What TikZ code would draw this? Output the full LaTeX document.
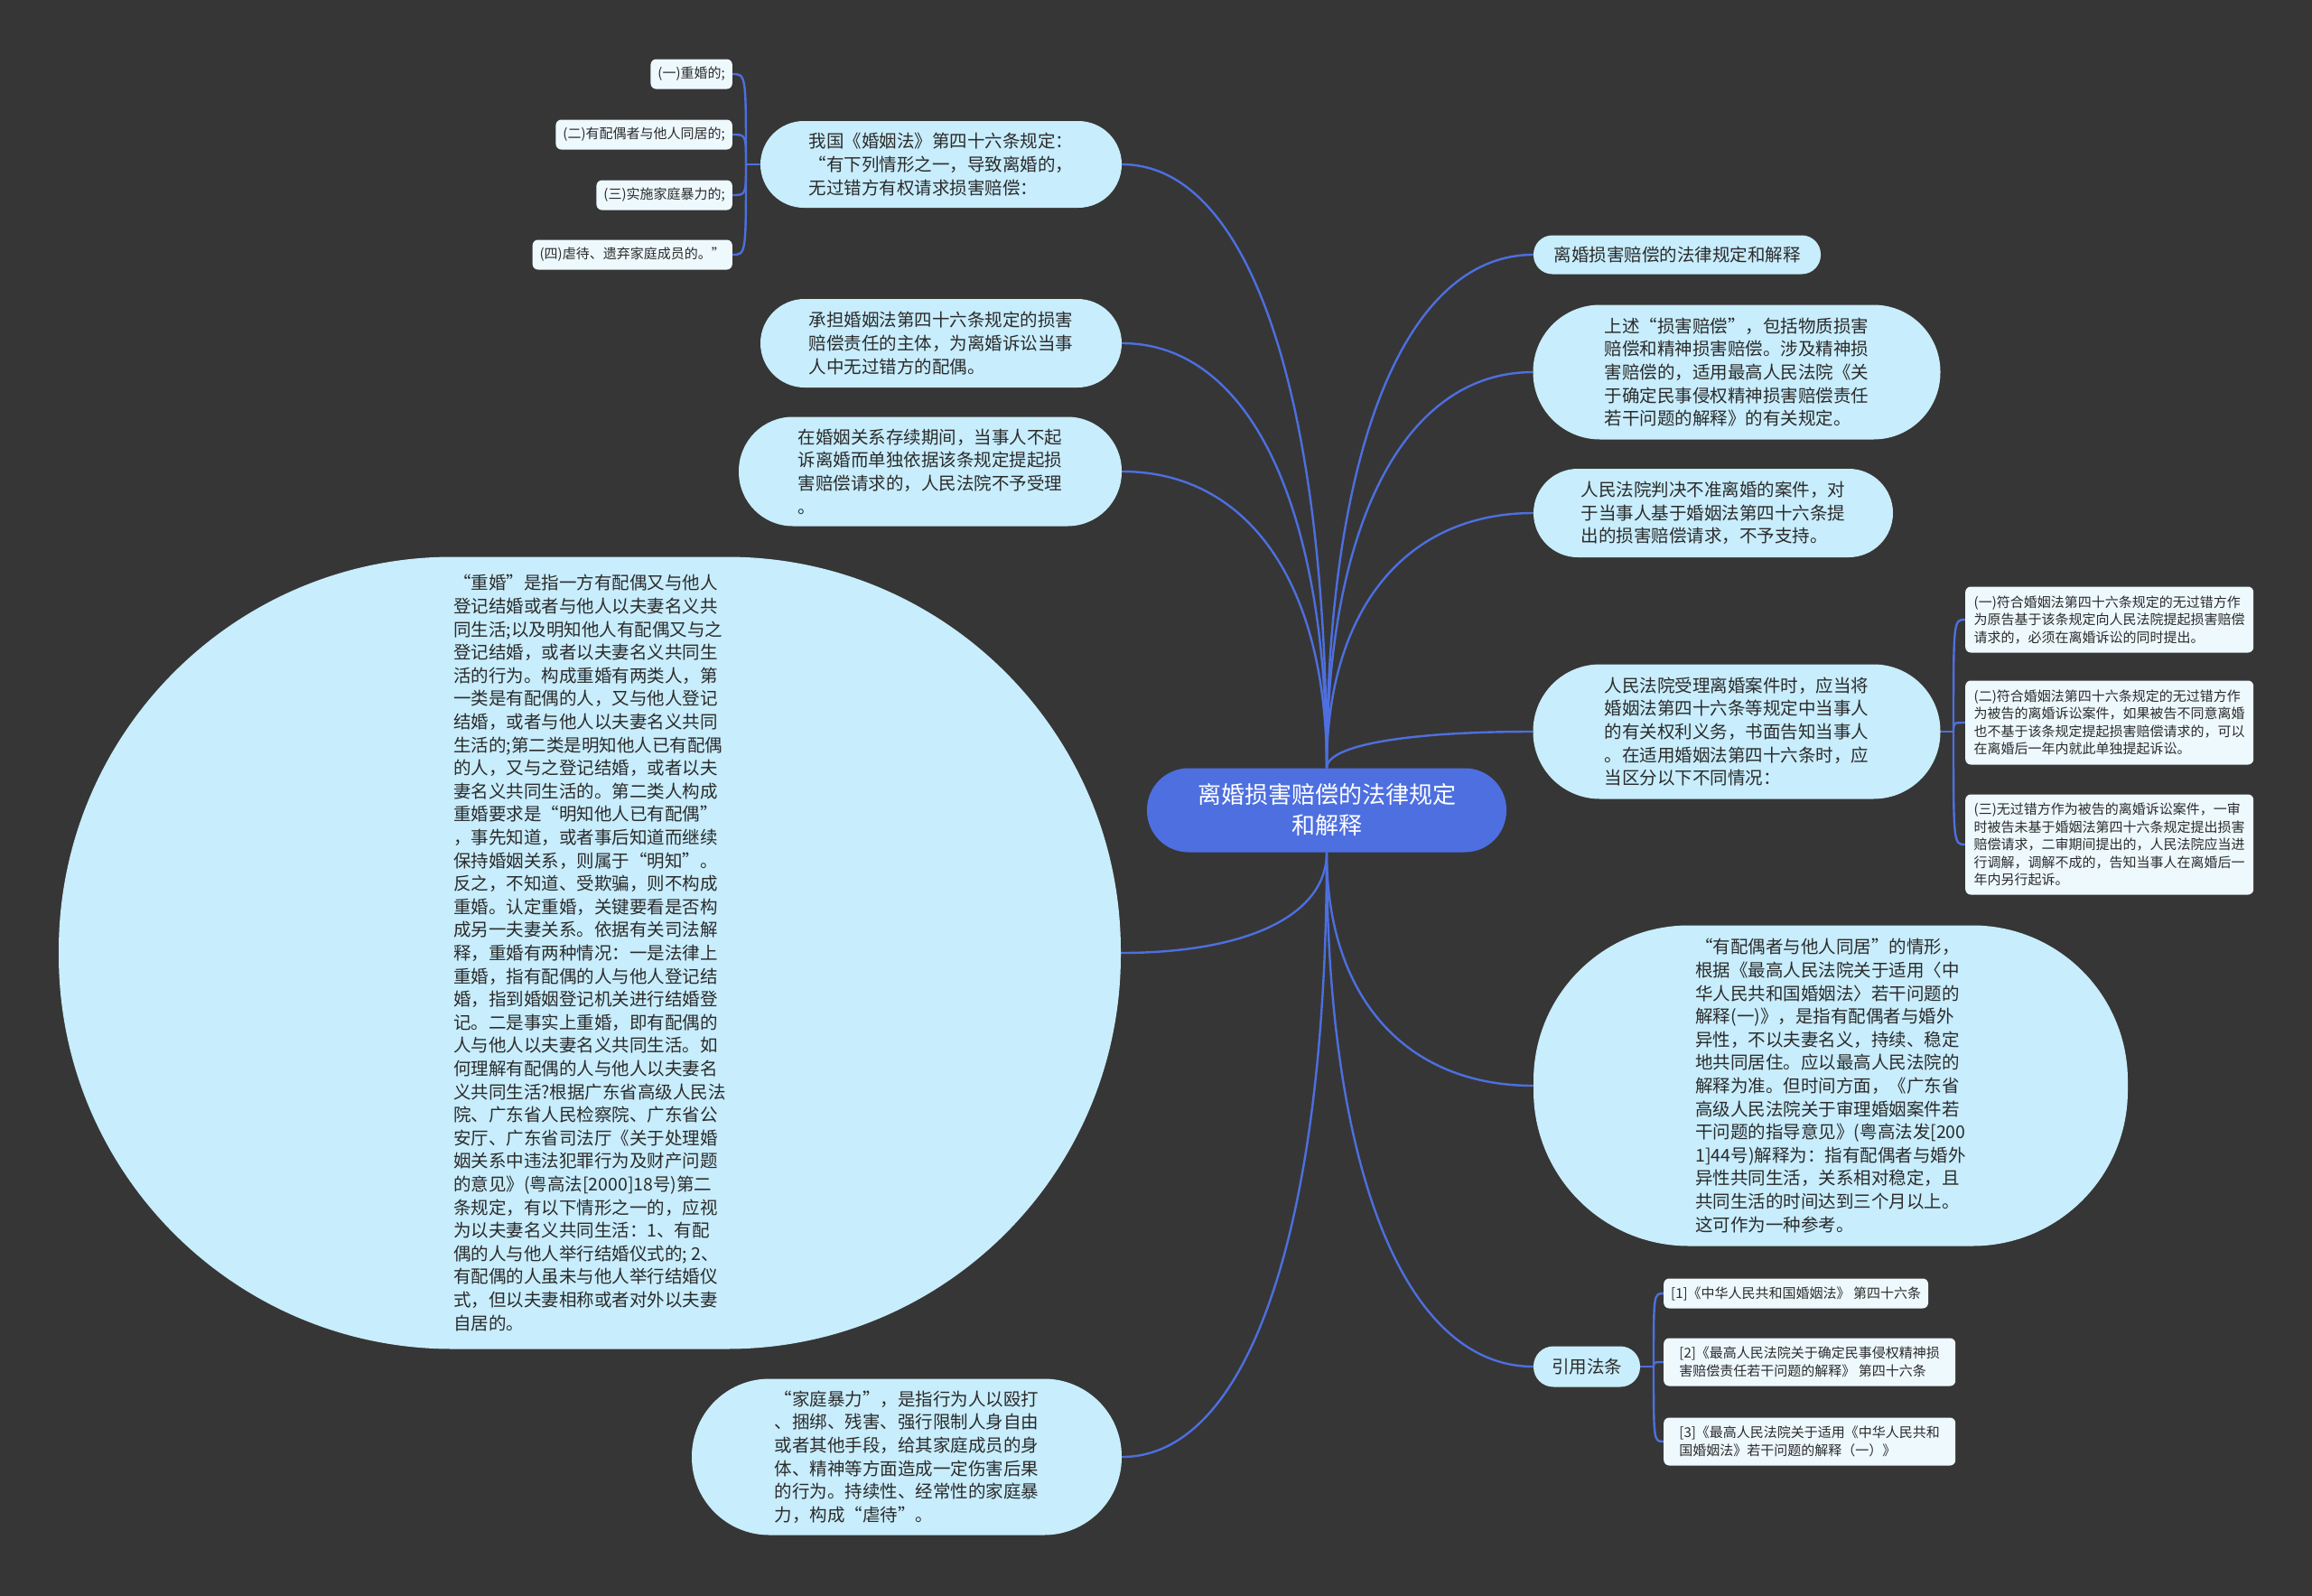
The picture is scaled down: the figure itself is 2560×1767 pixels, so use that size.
\documentclass[tikz,border=0pt]{standalone}
\usepackage{fontspec}
\newfontfamily\cjk{Noto Sans CJK SC}
\usetikzlibrary{calc,backgrounds}
\definecolor{bgc}{HTML}{363636}
\definecolor{nodefill}{HTML}{C8EDFC}
\definecolor{subfill}{HTML}{EEF9FE}
\definecolor{txtc}{HTML}{2B2B2B}
\definecolor{mainfill}{HTML}{4D6FE0}
\definecolor{linkc}{HTML}{4D6FDF}
\newcommand\mmconn[2]{\draw[link] (#1) .. controls ($(#1)!0.62!(#1 |- #2)$) and ($(#2)!0.62!(#1 |- #2)$) .. (#2);}
\newcommand\mmbrk[2]{\draw[link] (#1) .. controls (#1 |- #2) .. (#2);}
\begin{document}
\begin{tikzpicture}[x=1pt,y=-1pt,
  link/.style={draw=linkc, line width=2.4pt},
  topic/.style={fill=nodefill, text=txtc, inner sep=0pt, align=left, font=\cjk\fontsize{19.5}{25.6}\selectfont},
  subbox/.style={fill=subfill, text=txtc, rounded corners=6pt, inner xsep=8pt, inner ysep=0pt, align=left, font=\cjk\fontsize{15}{19.5}\selectfont},
  mainbox/.style={fill=mainfill, text=white, inner sep=0pt, align=center, font=\cjk\fontsize{26}{34}\selectfont}]
\useasboundingbox (0,0) rectangle (2560,1767);

% central
\node[mainbox, rounded corners=46pt, minimum width=398pt, minimum height=93pt] (c) at (1469,897) {离婚损害赔偿的法律规定\\和解释};

% left topics
\node[topic, rounded corners=48pt, minimum width=400pt, minimum height=96pt] (l1) at (1042,182) {我国《婚姻法》第四十六条规定：\\“有下列情形之一，导致离婚的，\\无过错方有权请求损害赔偿：};
\node[topic, rounded corners=49pt, minimum width=400pt, minimum height=98pt] (l2) at (1042,380) {承担婚姻法第四十六条规定的损害\\赔偿责任的主体，为离婚诉讼当事\\人中无过错方的配偶。};
\node[topic, rounded corners=60pt, minimum width=424pt, minimum height=121pt] (l3) at (1030,522) {在婚姻关系存续期间，当事人不起\\诉离婚而单独依据该条规定提起损\\害赔偿请求的，人民法院不予受理\\。};
\node[topic, rounded corners=436pt, minimum width=1176pt, minimum height=877pt] (l4) at (653,1055) {“重婚”是指一方有配偶又与他人\\登记结婚或者与他人以夫妻名义共\\同生活;以及明知他人有配偶又与之\\登记结婚，或者以夫妻名义共同生\\活的行为。构成重婚有两类人，第\\一类是有配偶的人，又与他人登记\\结婚，或者与他人以夫妻名义共同\\生活的;第二类是明知他人已有配偶\\的人，又与之登记结婚，或者以夫\\妻名义共同生活的。第二类人构成\\重婚要求是“明知他人已有配偶”\\，事先知道，或者事后知道而继续\\保持婚姻关系，则属于“明知”。\\反之，不知道、受欺骗，则不构成\\重婚。认定重婚，关键要看是否构\\成另一夫妻关系。依据有关司法解\\释，重婚有两种情况：一是法律上\\重婚，指有配偶的人与他人登记结\\婚，指到婚姻登记机关进行结婚登\\记。二是事实上重婚，即有配偶的\\人与他人以夫妻名义共同生活。如\\何理解有配偶的人与他人以夫妻名\\义共同生活?根据广东省高级人民法\\院、广东省人民检察院、广东省公\\安厅、广东省司法厅《关于处理婚\\姻关系中违法犯罪行为及财产问题\\的意见》(粤高法[2000]18号)第二\\条规定，有以下情形之一的，应视\\为以夫妻名义共同生活：1、有配\\偶的人与他人举行结婚仪式的; 2、\\有配偶的人虽未与他人举行结婚仪\\式，但以夫妻相称或者对外以夫妻\\自居的。};
\node[topic, rounded corners=86pt, minimum width=476pt, minimum height=173pt] (l5) at (1004,1613) {“家庭暴力”，是指行为人以殴打\\、捆绑、残害、强行限制人身自由\\或者其他手段，给其家庭成员的身\\体、精神等方面造成一定伤害后果\\的行为。持续性、经常性的家庭暴\\力，构成“虐待”。};

% left small boxes
\node[subbox, anchor=east, minimum height=33pt] (k1) at (811,82) {(一)重婚的;};
\node[subbox, anchor=east, minimum height=33pt] (k2) at (811,149) {(二)有配偶者与他人同居的;};
\node[subbox, anchor=east, minimum height=33pt] (k3) at (811,216) {(三)实施家庭暴力的;};
\node[subbox, anchor=east, minimum height=33pt] (k4) at (811,282) {(四)虐待、遗弃家庭成员的。”};

% right topics
\node[topic, rounded corners=21pt, minimum width=318pt, minimum height=43pt] (r1) at (1857,282) {离婚损害赔偿的法律规定和解释};
\node[topic, rounded corners=74pt, minimum width=451pt, minimum height=149pt] (r2) at (1923,412) {上述“损害赔偿”，包括物质损害\\赔偿和精神损害赔偿。涉及精神损\\害赔偿的，适用最高人民法院《关\\于确定民事侵权精神损害赔偿责任\\若干问题的解释》的有关规定。};
\node[topic, rounded corners=49pt, minimum width=398pt, minimum height=98pt] (r3) at (1897,568) {人民法院判决不准离婚的案件，对\\于当事人基于婚姻法第四十六条提\\出的损害赔偿请求，不予支持。};
\node[topic, rounded corners=74pt, minimum width=451pt, minimum height=149pt] (r4) at (1923,810) {人民法院受理离婚案件时，应当将\\婚姻法第四十六条等规定中当事人\\的有关权利义务，书面告知当事人\\。在适用婚姻法第四十六条时，应\\当区分以下不同情况：};
\node[topic, rounded corners=172pt, minimum width=658pt, minimum height=355pt] (r5) at (2027,1202) {“有配偶者与他人同居”的情形，\\根据《最高人民法院关于适用〈中\\华人民共和国婚姻法〉若干问题的\\解释(一)》，是指有配偶者与婚外\\异性，不以夫妻名义，持续、稳定\\地共同居住。应以最高人民法院的\\解释为准。但时间方面，《广东省\\高级人民法院关于审理婚姻案件若\\干问题的指导意见》(粤高法发[200\\1]44号)解释为：指有配偶者与婚外\\异性共同生活，关系相对稳定，且\\共同生活的时间达到三个月以上。\\这可作为一种参考。};
\node[topic, rounded corners=22pt, minimum width=118pt, minimum height=45pt] (r6) at (1757,1513) {引用法条};

% right small boxes (r4)
\node[subbox, anchor=west, minimum width=319pt, minimum height=73pt] (m1) at (2176,686) {(一)符合婚姻法第四十六条规定的无过错方作\\为原告基于该条规定向人民法院提起损害赔偿\\请求的，必须在离婚诉讼的同时提出。};
\node[subbox, anchor=west, minimum width=319pt, minimum height=93pt] (m2) at (2176,800) {(二)符合婚姻法第四十六条规定的无过错方作\\为被告的离婚诉讼案件，如果被告不同意离婚\\也不基于该条规定提起损害赔偿请求的，可以\\在离婚后一年内就此单独提起诉讼。};
\node[subbox, anchor=west, minimum width=319pt, minimum height=111pt] (m3) at (2176,935) {(三)无过错方作为被告的离婚诉讼案件，一审\\时被告未基于婚姻法第四十六条规定提出损害\\赔偿请求，二审期间提出的，人民法院应当进\\行调解，调解不成的，告知当事人在离婚后一\\年内另行起诉。};

% right small boxes (r6)
\node[subbox, anchor=west, minimum height=33pt] (n1) at (1842,1432) {[1]《中华人民共和国婚姻法》 第四十六条};
\node[subbox, anchor=west, minimum width=323pt, minimum height=53pt] (n2) at (1842,1508) {[2]《最高人民法院关于确定民事侵权精神损\\害赔偿责任若干问题的解释》 第四十六条};
\node[subbox, anchor=west, minimum width=323pt, minimum height=53pt] (n3) at (1842,1596) {[3]《最高人民法院关于适用《中华人民共和\\国婚姻法》若干问题的解释（一）》};

\begin{pgfonlayer}{background}
\fill[bgc] (0,0) rectangle (2560,1767);
% central connectors (top)
\mmconn{c.north}{l1.east}
\mmconn{c.north}{l2.east}
\mmconn{c.north}{l3.east}
\mmconn{c.north}{r1.west}
\mmconn{c.north}{r2.west}
\mmconn{c.north}{r3.west}
\mmconn{c.north}{r4.west}
% central connectors (bottom)
\mmconn{c.south}{l4.east}
\mmconn{c.south}{l5.east}
\mmconn{c.south}{r5.west}
\mmconn{c.south}{r6.west}
% brackets
\coordinate (bl) at (826,182);
\draw[link] (l1.west) -- (bl);
\mmbrk{bl}{k1.east}
\mmbrk{bl}{k2.east}
\mmbrk{bl}{k3.east}
\mmbrk{bl}{k4.east}
\coordinate (br4) at (2163,810);
\draw[link] (r4.east) -- (br4);
\mmbrk{br4}{m1.west}
\mmbrk{br4}{m2.west}
\mmbrk{br4}{m3.west}
\coordinate (br6) at (1831,1513);
\draw[link] (r6.east) -- (br6);
\mmbrk{br6}{n1.west}
\mmbrk{br6}{n2.west}
\mmbrk{br6}{n3.west}
\end{pgfonlayer}
\end{tikzpicture}
\end{document}
